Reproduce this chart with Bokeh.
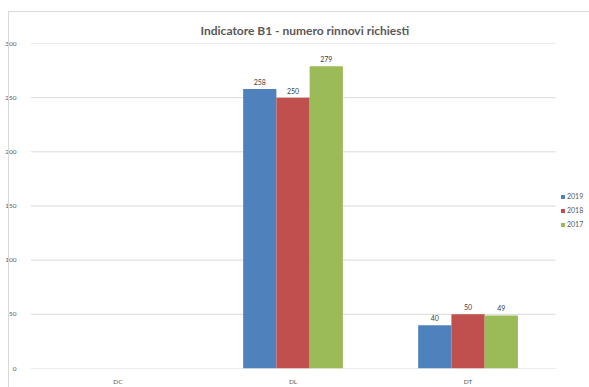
from bokeh.plotting import figure
from bokeh.models import ColumnDataSource, Legend, LegendItem, FixedTicker, Range1d
from bokeh.core.properties import value
from bokeh.embed import file_html
from bokeh.resources import INLINE

# Number of renewals requested per structure and year
categories = ["DC", "DL", "DT"]
years = ["2019", "2018", "2017"]
values_2019 = [0, 258, 40]
values_2018 = [0, 250, 50]
values_2017 = [0, 279, 49]
y_ticks = [0, 50, 100, 150, 200, 250, 300]

colors = {"2019": "#4F81BD", "2018": "#C0504D", "2017": "#9BBB59"}
series = {"2019": values_2019, "2018": values_2018, "2017": values_2017}
FONT = "Lato"

# categories sit at 0, 1, 2; the plotting area runs on a little past the last
# category so the legend has room on the right
n = len(categories)
x_start, x_end = -0.5, n - 0.5 + 0.194

p = figure(
    x_range=Range1d(x_start, x_end), y_range=Range1d(0, 300),
    width=589, height=387,
    output_backend="svg", toolbar_location=None,
    min_border_left=30, min_border_right=0,
    min_border_top=43, min_border_bottom=12,
)
p.outline_line_color = None
p.background_fill_color = "white"
p.border_fill_color = "white"

p.title.text = "Indicatore B1 - numero rinnovi richiesti"
p.title.align = "left"
p.title.offset = 170
p.title.text_font = FONT
p.title.text_font_size = "12px"
p.title.text_font_style = "bold"
p.title.text_color = "#595959"
p.title.standoff = 11

# horizontal gridlines spanning only the category area
p.xgrid.grid_line_color = None
p.ygrid.grid_line_color = None
p.segment(x0=[-0.5] * len(y_ticks), x1=[n - 0.5] * len(y_ticks), y0=y_ticks, y1=y_ticks,
          line_color="#d9d9d9", line_width=1)

bar_w = 0.19
offsets = {"2019": -bar_w, "2018": 0.0, "2017": bar_w}
items = []
for yr in years:
    xs = [i + offsets[yr] for i in range(n)]
    src = ColumnDataSource(dict(x=xs, val=series[yr],
                                lab=[str(v) if v else "" for v in series[yr]]))
    r = p.vbar(x="x", top="val", width=bar_w, source=src,
               fill_color=colors[yr], line_color=None)
    p.text(x="x", y="val", text="lab", source=src,
           text_align="center", text_baseline="bottom", y_offset=-4,
           text_font=value(FONT), text_font_size="7px", text_color="#404040")
    items.append(LegendItem(label=yr, renderers=[r]))

legend = Legend(items=items, location=(530, 140), orientation="vertical",
                label_text_font=FONT, label_text_font_size="7px", label_text_color="#595959",
                glyph_width=5, glyph_height=5, label_height=8, label_standoff=2,
                spacing=6, padding=2, margin=0,
                border_line_color=None, background_fill_alpha=0)
p.add_layout(legend, "center")

p.yaxis.ticker = FixedTicker(ticks=y_ticks)
p.yaxis.axis_line_color = None
p.yaxis.major_tick_line_color = None
p.yaxis.minor_tick_line_color = None
p.yaxis.major_label_text_font = FONT
p.yaxis.major_label_text_font_size = "6.5px"
p.yaxis.major_label_text_color = "#595959"
p.yaxis.major_label_standoff = 8

p.xaxis.ticker = FixedTicker(ticks=list(range(n)))
p.xaxis.major_label_overrides = {i: c for i, c in enumerate(categories)}
p.xaxis.axis_line_color = None
p.xaxis.major_tick_line_color = None
p.xaxis.minor_tick_line_color = None
p.xaxis.major_label_text_font = FONT
p.xaxis.major_label_text_font_size = "6.5px"
p.xaxis.major_label_text_color = "#595959"
p.xaxis.major_label_standoff = 3

html = file_html(p, INLINE)
# page reset plus the thin light-grey chart border
html = html.replace(
    "<head>",
    "<head><style>html, body { margin: 0; padding: 0; overflow: hidden; }"
    " body::after { content: ''; position: fixed; left: 8px; top: 11px; width: 700px;"
    " height: 500px; border-left: 1px solid #d9d9d9; border-top: 1px solid #d9d9d9;"
    " pointer-events: none; }</style>",
    1,
)
open("out.html", "w").write(html)
